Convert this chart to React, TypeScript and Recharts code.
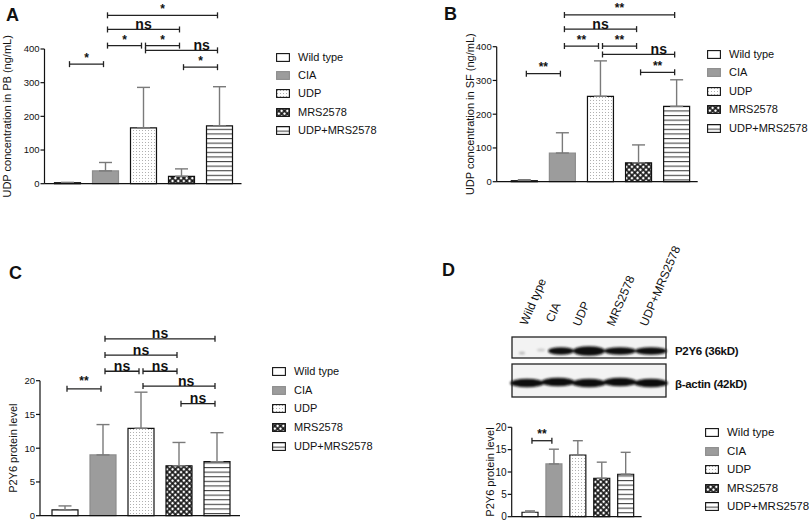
import React from 'react';
import { BarChart, Bar, XAxis, YAxis, Cell, ErrorBar, ReferenceLine } from 'recharts';

const FONT = '"Liberation Sans", Arial, Helvetica, sans-serif';

// ---------- data ----------
const categories = ['Wild type', 'CIA', 'UDP', 'MRS2578', 'UDP+MRS2578'];

const pbMean = [3, 38, 166, 22, 172];
const pbSD = [1, 25, 120, 22, 116];
const pbTicks = [0, 100, 200, 300, 400];

const sfMean = [3, 85, 253, 56, 223];
const sfSD = [3, 60, 105, 53, 79];
const sfTicks = [0, 100, 200, 300, 400];

const protMeanC = [0.85, 9.0, 12.95, 7.4, 8.0];
const protSDC = [0.6, 4.5, 5.35, 3.45, 4.3];
const protTicksC = [0, 5, 10, 15, 20];

const protMeanD = [1.0, 11.8, 13.8, 8.6, 9.5];
const protSDD = [0.3, 3.3, 3.2, 3.6, 4.9];
const protTicksD = [0, 5, 10, 15, 20];

type Bracket = { from: string; to: string; level: number; label: string; at?: number };

const pbBrackets: Bracket[] = [
  { from: 'Wild type', to: 'CIA', level: 355, label: '*' },
  { from: 'CIA', to: 'UDP', level: 410, label: '*' },
  { from: 'UDP', to: 'MRS2578', level: 410, label: '*' },
  { from: 'CIA', to: 'MRS2578', level: 458, label: 'ns' },
  { from: 'CIA', to: 'UDP+MRS2578', level: 500, label: '*' },
  { from: 'UDP', to: 'UDP+MRS2578', level: 396, label: 'ns', at: 0.78 },
  { from: 'MRS2578', to: 'UDP+MRS2578', level: 346, label: '*' },
];

const sfBrackets: Bracket[] = [
  { from: 'Wild type', to: 'CIA', level: 320, label: '**' },
  { from: 'CIA', to: 'UDP', level: 402, label: '**' },
  { from: 'UDP', to: 'MRS2578', level: 402, label: '**' },
  { from: 'CIA', to: 'MRS2578', level: 452, label: 'ns' },
  { from: 'CIA', to: 'UDP+MRS2578', level: 494, label: '**' },
  { from: 'UDP', to: 'UDP+MRS2578', level: 377, label: 'ns', at: 0.78 },
  { from: 'MRS2578', to: 'UDP+MRS2578', level: 324, label: '**' },
];

const protBracketsC: Bracket[] = [
  { from: 'Wild type', to: 'CIA', level: 18.8, label: '**' },
  { from: 'CIA', to: 'UDP', level: 21.4, label: 'ns' },
  { from: 'UDP', to: 'MRS2578', level: 21.4, label: 'ns' },
  { from: 'CIA', to: 'MRS2578', level: 23.8, label: 'ns' },
  { from: 'CIA', to: 'UDP+MRS2578', level: 26.2, label: 'ns' },
  { from: 'UDP', to: 'UDP+MRS2578', level: 19.2, label: 'ns', at: 0.6 },
  { from: 'MRS2578', to: 'UDP+MRS2578', level: 16.6, label: 'ns' },
];

const protBracketsD: Bracket[] = [
  { from: 'Wild type', to: 'CIA', level: 17.0, label: '**' },
];

const blotBands = ['P2Y6 (36kD)', 'β-actin (42kD)'];

// ---------- styles ----------
const fills = ['#ffffff', '#9c9c9c', 'url(#patDots)', 'url(#patCheck)', 'url(#patLines)'];
const strokes = ['#111', '#8d8d8d', '#111', '#111', '#111'];

function renderBracket(p: any, label: string, starLift: number, at: number) {
  const x1 = Math.min(p.x1, p.x2) + 2;
  const x2 = Math.max(p.x1, p.x2) - 2;
  const y = p.y1;
  const star = label.indexOf('*') >= 0;
  return (
    <g>
      <line x1={x1} y1={y} x2={x2} y2={y} stroke="#222" strokeWidth={1.3} />
      <line x1={x1} y1={y - 3} x2={x1} y2={y + 3} stroke="#222" strokeWidth={1.3} />
      <line x1={x2} y1={y - 3} x2={x2} y2={y + 3} stroke="#222" strokeWidth={1.3} />
      <text
        x={x1 + (x2 - x1) * at}
        y={star ? y - starLift : y - 0.5}
        textAnchor="middle"
        fontFamily={FONT}
        fontWeight="bold"
        fontSize={star ? 12 : 14}
        fill="#111"
      >
        {label}
      </text>
    </g>
  );
}

type PanelProps = {
  left: number;
  top: number;
  width: number;
  height: number;
  margin: { top: number; right: number; bottom: number; left: number };
  yWidth: number;
  xHeight: number;
  padL: number;
  padR: number;
  barSize: number;
  cap: number;
  means: number[];
  sds: number[];
  ticks: number[];
  brackets: Bracket[];
  yLabel: string;
  labelOffset: number;
  tickFont: number;
  starLift: number;
};

function Panel(props: PanelProps) {
  const data = categories.map((c, i) => ({ name: c, value: props.means[i], err: [0, props.sds[i]] }));
  const max = props.ticks[props.ticks.length - 1];
  return (
    <div style={{ position: 'absolute', left: props.left, top: props.top }}>
      <BarChart width={props.width} height={props.height} data={data} margin={props.margin}>
        <XAxis
          dataKey="name"
          type="category"
          height={props.xHeight}
          padding={{ left: props.padL, right: props.padR }}
          tick={false}
          tickSize={4}
          axisLine={{ stroke: '#111', strokeWidth: 1.2 }}
          tickLine={{ stroke: '#111', strokeWidth: 1.2 }}
        />
        <YAxis
          type="number"
          domain={[0, max]}
          ticks={props.ticks}
          width={props.yWidth}
          tickSize={4}
          tickMargin={1}
          interval={0}
          axisLine={{ stroke: '#111', strokeWidth: 1.2 }}
          tickLine={{ stroke: '#111', strokeWidth: 1.2 }}
          tick={{ fontSize: props.tickFont, fill: '#111', fontFamily: FONT }}
          label={{
            value: props.yLabel,
            angle: -90,
            position: 'insideLeft',
            offset: props.labelOffset,
            style: { textAnchor: 'middle', fontSize: 11, fill: '#111', fontFamily: FONT },
          }}
        />
        <Bar dataKey="value" barSize={props.barSize} isAnimationActive={false}>
          {data.map((d, i) => (
            <Cell key={d.name} fill={fills[i]} stroke={strokes[i]} strokeWidth={1.2} />
          ))}
          <ErrorBar dataKey="err" width={props.cap} stroke="#7a7a7a" strokeWidth={1.4} direction="y" />
        </Bar>
        {props.brackets.map((b, i) => (
          <ReferenceLine
            key={i}
            segment={[
              { x: b.from, y: b.level },
              { x: b.to, y: b.level },
            ]}
            ifOverflow="visible"
            shape={(p: any) => renderBracket(p, b.label, props.starLift, b.at ?? 0.5)}
          />
        ))}
      </BarChart>
    </div>
  );
}

function LegendBox({ left, top, gap, fontSize }: { left: number; top: number; gap: number; fontSize: number }) {
  return (
    <div style={{ position: 'absolute', left, top }}>
      {categories.map((c, i) => (
        <div key={c} style={{ display: 'flex', alignItems: 'center', height: gap }}>
          <svg width={14} height={9} style={{ display: 'block' }}>
            <rect x={0.6} y={0.6} width={12.8} height={7.8} fill={fills[i]} stroke={strokes[i]} strokeWidth={1.1} />
          </svg>
          <span style={{ marginLeft: 8, fontSize, fontFamily: FONT, color: '#111', lineHeight: 1, whiteSpace: 'nowrap' }}>{c}</span>
        </div>
      ))}
    </div>
  );
}

const panelLetter = (t: string, x: number, y: number) => (
  <div style={{ position: 'absolute', left: x, top: y, fontSize: 18, fontWeight: 'bold', fontFamily: FONT, lineHeight: 1, color: '#111' }}>{t}</div>
);

function Blot() {
  const laneX = [527, 558, 589, 620, 651];
  const laneLabelPos = [
    [527, 326],
    [553, 323],
    [580, 327],
    [614, 327],
    [647, 327],
  ];
  return (
    <svg width={809} height={523} style={{ position: 'absolute', left: 0, top: 0, pointerEvents: 'none' }}>
      <defs>
        <filter id="blur1" x="-20%" y="-50%" width="140%" height="200%">
          <feGaussianBlur stdDeviation="1.1" />
        </filter>
      </defs>
      {categories.map((c, i) => (
        <text
          key={c}
          x={laneLabelPos[i][0]}
          y={laneLabelPos[i][1]}
          transform={`rotate(-67 ${laneLabelPos[i][0]} ${laneLabelPos[i][1]})`}
          fontSize={12}
          fontFamily={FONT}
          fill="#111"
        >
          {c}
        </text>
      ))}
      <rect x={512} y={337} width={154} height={21} fill="#f3f3f3" stroke="#222" strokeWidth={1.3} />
      <g filter="url(#blur1)">
        <ellipse cx={522} cy={353} rx={3} ry={1.5} fill="#bbb" />
        <ellipse cx={541} cy={350} rx={4} ry={1.5} fill="#ccc" />
        {laneX.slice(1).map((x, i) => (
          <ellipse key={x} cx={x + (i === 0 ? 3 : 0)} cy={351} rx={i === 0 ? 13 : 16} ry={i === 1 ? 4.8 : 3.8} fill="#111" />
        ))}
      </g>
      <rect x={512} y={364} width={154} height={33} fill="#f3f3f3" stroke="#222" strokeWidth={1.3} />
      <g filter="url(#blur1)">
        {laneX.map((x, i) => (
          <ellipse key={x} cx={x} cy={383 + (i % 2 === 0 ? 0 : -1)} rx={17} ry={4.3} fill="#111" />
        ))}
      </g>
      <text x={675} y={355} fontSize={11.5} fontWeight="bold" fontFamily={FONT} letterSpacing={-0.3} fill="#111">
        {blotBands[0]}
      </text>
      <text x={675} y={388} fontSize={11.5} fontWeight="bold" fontFamily={FONT} letterSpacing={-0.3} fill="#111">
        {blotBands[1]}
      </text>
    </svg>
  );
}

export default function App() {
  return (
    <div style={{ position: 'absolute', left: 0, top: 0, width: 809, height: 523, overflow: 'hidden', background: '#fff', fontFamily: FONT }}>
      <svg width={0} height={0} style={{ position: 'absolute' }}>
        <defs>
          <pattern id="patDots" width={3} height={3} patternUnits="userSpaceOnUse">
            <rect width={3} height={3} fill="#fff" />
            <rect x={1} y={1} width={1} height={1} fill="#b0b0b0" />
          </pattern>
          <pattern id="patCheck" width={4} height={4} patternUnits="userSpaceOnUse" patternTransform="rotate(45)">
            <rect width={4} height={4} fill="#111" />
            <rect x={0.8} y={0.8} width={2.4} height={2.4} fill="#fff" />
          </pattern>
          <pattern id="patLines" width={4} height={4.6} patternUnits="userSpaceOnUse">
            <rect width={4} height={4.6} fill="#fff" />
            <rect y={0} width={4} height={1.1} fill="#444" />
          </pattern>
        </defs>
      </svg>

      {panelLetter('A', 6, 6)}
      <Panel
        left={0}
        top={0}
        width={250}
        height={200}
        margin={{ top: 49, right: 8.5, bottom: 8.3, left: 14.5 }}
        yWidth={30}
        xHeight={8}
        padL={4}
        padR={3}
        barSize={26}
        cap={6.5}
        means={pbMean}
        sds={pbSD}
        ticks={pbTicks}
        brackets={pbBrackets}
        yLabel="UDP concentration in PB (ng/mL)"
        labelOffset={-7.5}
        tickFont={9.5}
        starLift={2}
      />
      <LegendBox left={276} top={48} gap={18.3} fontSize={11} />

      {panelLetter('B', 444, 5)}
      <Panel
        left={400}
        top={0}
        width={310}
        height={200}
        margin={{ top: 46.7, right: 12.3, bottom: 10.3, left: 66.7 }}
        yWidth={30}
        xHeight={8}
        padL={8.6}
        padR={2}
        barSize={26}
        cap={6.5}
        means={sfMean}
        sds={sfSD}
        ticks={sfTicks}
        brackets={sfBrackets}
        yLabel="UDP concentration in SF (ng/mL)"
        labelOffset={3.3}
        tickFont={9.5}
        starLift={2.5}
      />
      <LegendBox left={707} top={45} gap={18.5} fontSize={11} />

      {panelLetter('C', 9, 264)}
      <Panel
        left={0}
        top={260}
        width={250}
        height={263}
        margin={{ top: 120.7, right: 10, bottom: 1.3, left: 14 }}
        yWidth={26}
        xHeight={6}
        padL={6}
        padR={4}
        barSize={26}
        cap={6.5}
        means={protMeanC}
        sds={protSDC}
        ticks={protTicksC}
        brackets={protBracketsC}
        yLabel="P2Y6 protein level"
        labelOffset={-1}
        tickFont={9.5}
        starLift={4}
      />
      <LegendBox left={272} top={362.4} gap={18.6} fontSize={11} />

      {panelLetter('D', 442, 261)}
      <Blot />
      <Panel
        left={400}
        top={250}
        width={250}
        height={273}
        margin={{ top: 177.3, right: 8.4, bottom: 1.3, left: 87.7 }}
        yWidth={24}
        xHeight={5}
        padL={6.3}
        padR={4}
        barSize={16}
        cap={5}
        means={protMeanD}
        sds={protSDD}
        ticks={protTicksD}
        brackets={protBracketsD}
        yLabel="P2Y6 protein level"
        labelOffset={2.3}
        tickFont={10}
        starLift={3}
      />
      <LegendBox left={705} top={423.5} gap={18.5} fontSize={11.5} />
    </div>
  );
}
